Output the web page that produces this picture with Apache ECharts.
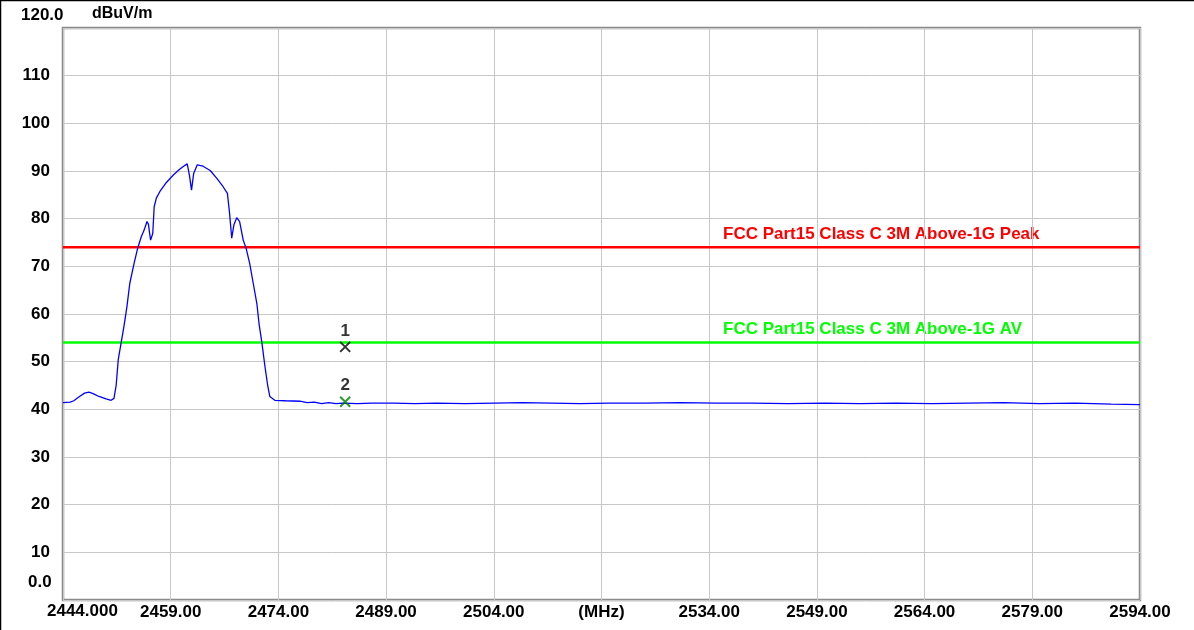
<!DOCTYPE html>
<html>
<head>
<meta charset="utf-8">
<title>FCC Part15 scan</title>
<script src="https://cdn.jsdelivr.net/npm/echarts@6.0.0/dist/echarts.min.js"></script>
<style>
	html, body { margin: 0; padding: 0; background: #fff; }
	#chart { width: 1194px; height: 630px; }
</style>
</head>
<body>
<div id="chart"></div>
<script>
// axis ticks
var xTickLabels = ['2444.000', '2459.00', '2474.00', '2489.00', '2504.00', '(MHz)', '2534.00', '2549.00', '2564.00', '2579.00', '2594.00'];
var yTickLabels = ['0.0', '10', '20', '30', '40', '50', '60', '70', '80', '90', '100', '110', '120.0'];

// measured trace (MHz / dBuV/m)
var traceFreq = [
	2444.0, 2445.0, 2445.5, 2446.2, 2447.0, 2447.6, 2448.2, 2449.0, 2450.0, 2450.7,
	2451.1, 2451.4, 2451.7, 2452.1, 2452.5, 2452.9, 2453.3, 2453.9, 2454.4, 2454.9,
	2455.3, 2455.7, 2455.9, 2456.2, 2456.5, 2456.7, 2457.0, 2457.5, 2458.4, 2459.4,
	2460.2, 2460.8, 2461.3, 2461.6, 2461.9, 2462.2, 2462.7, 2463.5, 2464.5, 2465.4,
	2466.3, 2466.9, 2467.2, 2467.5, 2467.8, 2468.2, 2468.6, 2469.1, 2469.5, 2470.0,
	2470.5, 2471.0, 2471.3, 2471.7, 2472.1, 2472.5, 2472.8, 2473.5, 2475.0, 2477.0,
	2478.0, 2479.0, 2480.0, 2481.0, 2482.0, 2483.0, 2485.0, 2487.0, 2490.0, 2493.0,
	2496.0, 2500.0, 2504.0, 2508.0, 2512.0, 2516.0, 2520.0, 2525.0, 2530.0, 2535.0,
	2540.0, 2545.0, 2550.0, 2555.0, 2560.0, 2565.0, 2570.0, 2575.0, 2580.0, 2585.0,
	2590.0, 2594.0
];
var traceLevel = [
	41.4, 41.5, 41.8, 42.6, 43.4, 43.6, 43.3, 42.7, 42.2, 41.9,
	42.3, 45.0, 50.5, 54.0, 57.5, 61.5, 66.4, 70.6, 73.8, 76.2,
	77.6, 79.4, 78.8, 75.5, 76.9, 82.5, 84.3, 85.7, 87.6, 89.2,
	90.3, 91.0, 91.5, 89.2, 86.0, 89.5, 91.3, 91.0, 90.1, 88.5,
	86.7, 85.3, 81.1, 75.9, 78.7, 80.2, 79.4, 75.5, 73.8, 70.6,
	66.4, 62.2, 58.0, 54.0, 49.3, 45.1, 42.7, 41.9, 41.8, 41.7,
	41.4, 41.5, 41.2, 41.4, 41.2, 41.3, 41.2, 41.3, 41.3, 41.2,
	41.3, 41.2, 41.3, 41.4, 41.3, 41.2, 41.3, 41.3, 41.4, 41.3,
	41.3, 41.2, 41.3, 41.2, 41.3, 41.2, 41.3, 41.4, 41.2, 41.3,
	41.1, 41.0
];

// limit lines
var limitNames = ['FCC Part15 Class C 3M Above-1G Peak', 'FCC Part15 Class C 3M Above-1G AV'];
var limitLevels = [74, 54];

// markers
var markerNames = ['1', '2'];
var markerFreq = [2483.3, 2483.3];
var markerLevel = [53.1, 41.6];

var FONT = '"Liberation Sans", Arial, sans-serif';

var chart = echarts.init(document.getElementById('chart'));

var traceData = traceFreq.map(function (f, i) { return [f, traceLevel[i]]; });
var xMin = 2444, xMax = 2594, xStep = 15;

var option = {
	animation: false,
	grid: {
		left: 63,
		right: 54,
		top: 28,
		bottom: 30,
		show: true,
		borderColor: '#8a8a8a',
		borderWidth: 2.5,
		backgroundColor: '#fff'
	},
	xAxis: {
		type: 'value',
		min: xMin,
		max: xMax,
		interval: xStep,
		axisLine: { show: false },
		axisTick: { show: false },
		splitLine: { show: true, lineStyle: { color: '#c8c8c8', width: 1 } },
		axisLabel: {
			showMinLabel: false,
			margin: 4,
			color: '#000',
			fontSize: 17,
			fontWeight: 'bold',
			fontFamily: FONT,
			formatter: function (v) {
				return xTickLabels[Math.round((v - xMin) / xStep)];
			}
		}
	},
	yAxis: {
		type: 'value',
		min: 0,
		max: 120,
		interval: 10,
		axisLine: { show: false },
		axisTick: { show: false },
		splitLine: { show: true, lineStyle: { color: '#c8c8c8', width: 1 } },
		axisLabel: {
			showMinLabel: false,
			showMaxLabel: false,
			margin: 13,
			color: '#000',
			fontSize: 17,
			fontWeight: 'bold',
			fontFamily: FONT,
			formatter: function (v) {
				return yTickLabels[Math.round(v / 10)];
			}
		}
	},
	series: [
		{
			name: limitNames[0],
			type: 'line',
			data: [[xMin, limitLevels[0]], [xMax, limitLevels[0]]],
			symbol: 'none',
			lineStyle: { color: '#ff0000', width: 2.5 },
			z: 3
		},
		{
			name: limitNames[1],
			type: 'line',
			data: [[xMin, limitLevels[1]], [xMax, limitLevels[1]]],
			symbol: 'none',
			lineStyle: { color: '#00ff00', width: 2.5 },
			z: 3
		},
		{
			name: 'trace',
			type: 'line',
			data: traceData,
			symbol: 'none',
			lineStyle: { color: '#0000ff', width: 1.3 },
			z: 4
		},
		{
			name: 'markers',
			type: 'scatter',
			data: [
				{ value: [markerFreq[0], markerLevel[0]], name: markerNames[0], itemStyle: { borderColor: '#000' } },
				{ value: [markerFreq[1], markerLevel[1]], name: markerNames[1], itemStyle: { borderColor: '#008000' } }
			],
			symbol: 'path://M0,0L10,10M10,0L0,10',
			symbolSize: [10, 10],
			itemStyle: { color: 'none', borderWidth: 2 },
			label: {
				show: true,
				position: 'top',
				distance: 0,
				formatter: '{b}',
				color: '#000',
				fontSize: 17,
				fontWeight: 'bold',
				fontFamily: FONT
			},
			z: 5
		}
	],
	graphic: [
		// outer frame (top + left only)
		{ type: 'line', shape: { x1: 0, y1: 0.5, x2: 1194, y2: 0.5 }, style: { stroke: '#000', lineWidth: 1.5 } },
		{ type: 'line', shape: { x1: 0.5, y1: 0, x2: 0.5, y2: 630 }, style: { stroke: '#000', lineWidth: 1.5 } },
		// end labels that sit off their ticks
		{ type: 'text', left: 21, top: 7, style: { text: yTickLabels[12], fill: '#000', font: 'bold 17px ' + FONT } },
		{ type: 'text', left: 92, top: 6, style: { text: 'dBuV/m', fill: '#000', font: 'bold 16px ' + FONT } },
		{ type: 'text', left: 28, top: 574, style: { text: yTickLabels[0], fill: '#000', font: 'bold 17px ' + FONT } },
		{ type: 'text', left: 47, top: 603, style: { text: xTickLabels[0], fill: '#000', font: 'bold 17px ' + FONT } },
		// limit line captions
		{ type: 'text', left: 723, top: 226, style: { text: limitNames[0], fill: '#ff0000', font: 'bold 17px ' + FONT } },
		{ type: 'text', left: 723, top: 321, style: { text: limitNames[1], fill: '#00ff00', font: 'bold 17px ' + FONT } }
	]
};

chart.setOption(option);
</script>
</body>
</html>
